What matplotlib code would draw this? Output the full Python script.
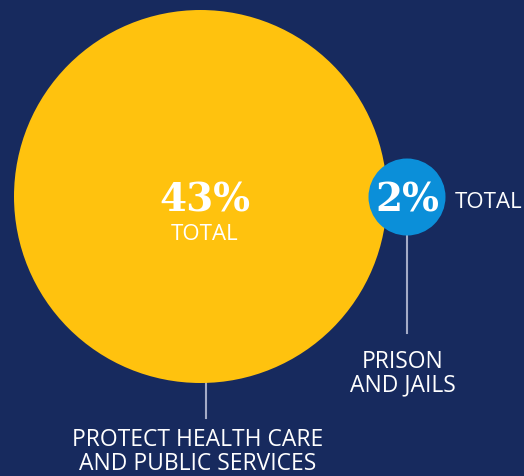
import matplotlib.pyplot as plt
from matplotlib.patches import Circle
import numpy as np

# data
values = [43, 2]
pct_labels = ['43%', '2%']
names = ['PROTECT HEALTH CARE\nAND PUBLIC SERVICES', 'PRISON\nAND JAILS']
colors = ['#FFC20E', '#0B8FD9']

bg = '#172A5E'
big_r = 186.5
radii = [big_r * np.sqrt(v / values[0]) for v in values]
radii[1] = 38.5
centers = [(200.5, 196.5), (407, 197)]

fig = plt.figure(figsize=(5.24, 4.76), dpi=100)
fig.patch.set_facecolor(bg)
ax = fig.add_axes([0, 0, 1, 1])
ax.set_facecolor(bg)
ax.set_xlim(0, 524)
ax.set_ylim(476, 0)
ax.set_aspect('equal')
ax.axis('off')

sans = ['Open Sans', 'DejaVu Sans']
slab = 'DejaVu Serif'

# circles
for (cx, cy), r, c in zip(centers, radii, colors):
    ax.add_patch(Circle((cx, cy), r, facecolor=c, edgecolor='none', zorder=2))

# leader lines
line_c = '#A4ABC6'
ax.plot([205.5, 205.5], [centers[0][1] + radii[0], 418], color=line_c, lw=1.5, zorder=1)
ax.plot([406.5, 406.5], [centers[1][1] + radii[1], 333], color=line_c, lw=1.5, zorder=1)

# big circle text
ax.text(205, 212, pct_labels[0], color='white', fontsize=28, fontweight='heavy',
        family=slab, ha='center', va='baseline', zorder=3)
ax.text(205, 239.5, 'TOTAL', color='white', fontsize=16, family=sans,
        ha='center', va='baseline', zorder=3)

# small circle text
ax.text(centers[1][0], 212, pct_labels[1], color='white', fontsize=28, fontweight='heavy',
        family=slab, ha='center', va='baseline', zorder=3)
ax.text(455, 208, 'TOTAL', color='white', fontsize=16, family=sans,
        ha='left', va='baseline', zorder=3)

# category labels
ax.text(198, 452, names[0], color='white', fontsize=16.5, family=sans,
        ha='center', va='center', linespacing=0.96, zorder=3)
ax.text(403, 374, names[1], color='white', fontsize=16.5, family=sans,
        ha='center', va='center', linespacing=0.96, zorder=3)

fig.savefig('out.png', dpi=100, facecolor=bg)
